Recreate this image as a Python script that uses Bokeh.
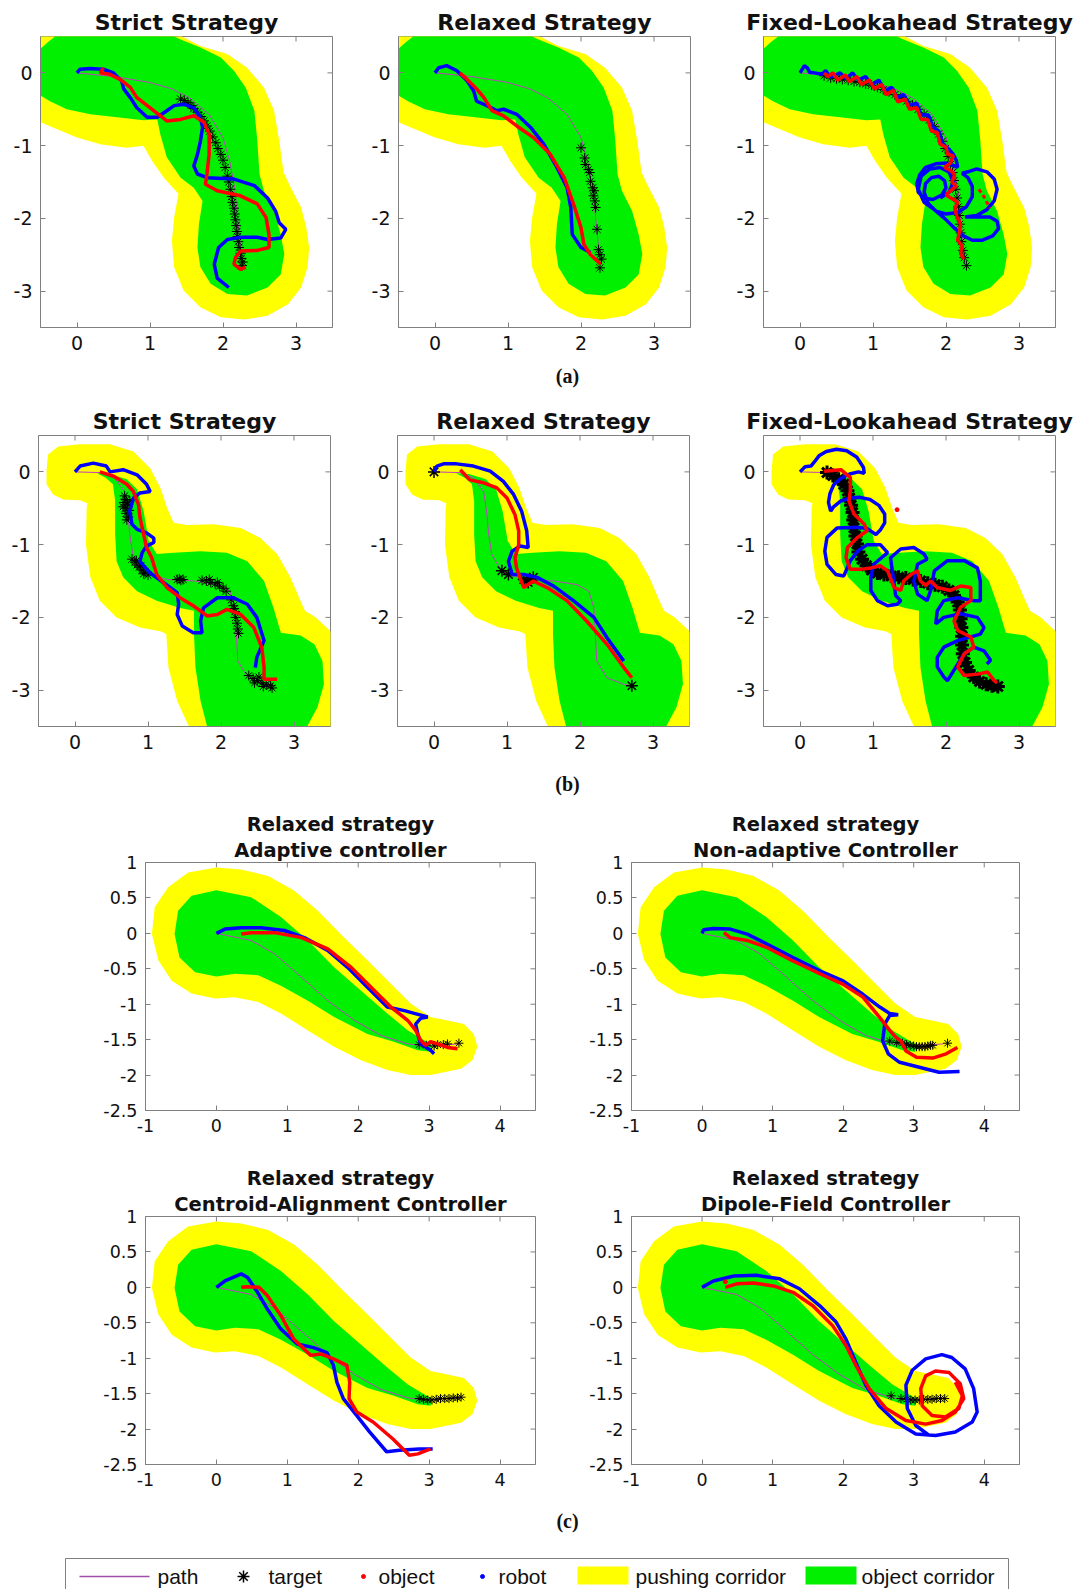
from bokeh.plotting import figure
from bokeh.layouts import column, row
from bokeh.models import Range1d, FixedTicker, Title, CustomJSTickFormatter
from bokeh.embed import file_html
from bokeh.resources import INLINE
from bokeh.core.properties import value

# ---------------- corridors (outlines, data units) ----------------
A_YELLOW = [(-0.6, 0.6), (1.40, 0.6), (1.44, 0.50), (1.69, 0.37), (2.06, 0.26), (2.33, 0.07), (2.56, -0.20),
            (2.70, -0.52), (2.77, -0.93), (2.83, -1.37), (2.93, -1.58), (3.07, -1.85), (3.14, -2.12), (3.18, -2.40),
            (3.16, -2.67), (3.07, -2.95), (2.89, -3.18), (2.61, -3.34), (2.29, -3.39), (1.97, -3.36), (1.69, -3.22),
            (1.46, -2.99), (1.33, -2.67), (1.30, -2.31), (1.33, -1.99), (1.39, -1.66), (1.19, -1.44), (1.03, -1.21),
            (0.91, -1.00), (0.68, -1.03), (0.32, -0.98), (0.00, -0.89), (-0.28, -0.77), (-0.50, -0.68), (-0.6, -0.64)]
A_GREEN = [(-0.6, 0.28), (-0.5, 0.33), (-0.40, 0.42), (-0.30, 0.50), (-0.25, 0.6), (1.30, 0.6), (1.33, 0.50),
           (1.42, 0.46), (1.69, 0.35), (1.97, 0.21), (2.15, 0.03), (2.31, -0.20), (2.43, -0.52), (2.47, -0.93),
           (2.50, -1.39), (2.56, -1.62), (2.70, -1.90), (2.79, -2.22), (2.84, -2.49), (2.79, -2.77), (2.61, -2.95),
           (2.33, -3.06), (2.06, -3.04), (1.83, -2.90), (1.69, -2.67), (1.65, -2.40), (1.67, -2.08), (1.72, -1.76),
           (1.60, -1.58), (1.42, -1.44), (1.23, -1.16), (1.14, -0.84), (1.10, -0.64), (0.91, -0.65), (0.55, -0.61),
           (0.18, -0.57), (-0.14, -0.50), (-0.37, -0.39), (-0.5, -0.31), (-0.6, -0.27)]
B_YELLOW = [(-0.39, 0.01), (-0.37, 0.24), (-0.23, 0.35), (0.07, 0.38), (0.48, 0.38), (0.80, 0.28), (1.03, 0.05),
            (1.17, -0.22), (1.26, -0.49), (1.35, -0.70), (1.53, -0.73), (1.90, -0.72), (2.27, -0.77), (2.54, -0.91),
            (2.77, -1.13), (2.95, -1.45), (3.07, -1.73), (3.15, -1.91), (3.30, -2.00), (3.50, -2.19), (3.6, -2.3),
            (3.6, -3.6), (1.58, -3.6), (1.56, -3.50), (1.40, -3.15), (1.28, -2.69), (1.25, -2.23), (1.17, -2.19),
            (0.89, -2.14), (0.57, -2.00), (0.34, -1.77), (0.21, -1.45), (0.15, -1.00), (0.16, -0.49), (0.17, -0.43),
            (0.07, -0.39), (-0.16, -0.38), (-0.30, -0.31), (-0.39, -0.17)]
B_GREEN = [(0.30, -0.02), (0.48, -0.03), (0.71, -0.10), (0.85, -0.24), (0.94, -0.54), (1.01, -0.95), (1.12, -1.13),
           (1.35, -1.11), (1.72, -1.09), (2.08, -1.11), (2.36, -1.23), (2.59, -1.50), (2.72, -1.87), (2.82, -2.21),
           (3.09, -2.25), (3.28, -2.37), (3.39, -2.60), (3.41, -2.92), (3.32, -3.24), (3.18, -3.50), (3.1, -3.6),
           (1.82, -3.6), (1.81, -3.50), (1.72, -3.15), (1.65, -2.69), (1.63, -2.23), (1.63, -1.91), (1.44, -1.87),
           (1.12, -1.77), (0.85, -1.64), (0.66, -1.45), (0.57, -1.23), (0.55, -0.86), (0.55, -0.40), (0.52, -0.17),
           (0.42, -0.08)]
C_YELLOW = [(0.00, 0.93), (0.35, 0.90), (0.73, 0.81), (1.10, 0.60), (1.43, 0.32), (1.80, -0.06), (2.13, -0.38),
            (2.46, -0.71), (2.74, -0.99), (3.02, -1.18), (3.26, -1.23), (3.49, -1.28), (3.63, -1.42), (3.68, -1.60),
            (3.61, -1.79), (3.45, -1.91), (3.26, -1.95), (3.02, -2.00), (2.74, -2.00), (2.41, -1.93), (2.04, -1.79),
            (1.66, -1.60), (1.29, -1.37), (0.91, -1.13), (0.59, -0.97), (0.26, -0.90), (-0.02, -0.92), (-0.35, -0.85),
            (-0.63, -0.67), (-0.82, -0.38), (-0.91, -0.01), (-0.87, 0.37), (-0.68, 0.65), (-0.40, 0.86)]
C_GREEN = [(0.00, 0.61), (0.49, 0.51), (0.91, 0.23), (1.29, -0.10), (1.66, -0.48), (2.04, -0.81), (2.41, -1.13),
           (2.70, -1.37), (2.93, -1.51), (3.05, -1.58), (3.02, -1.67), (2.84, -1.65), (2.50, -1.53), (2.13, -1.42),
           (1.66, -1.18), (1.29, -0.95), (0.91, -0.74), (0.59, -0.59), (0.26, -0.57), (0.00, -0.61), (-0.30, -0.55),
           (-0.52, -0.34), (-0.59, -0.01), (-0.54, 0.32), (-0.35, 0.53)]

# ---------------- reference paths ----------------
A_PATH = [(0, 0), (0.5, -0.05), (0.99, -0.13), (1.30, -0.22), (1.54, -0.34), (1.81, -0.57), (2.00, -0.89),
          (2.09, -1.21), (2.16, -1.58), (2.20, -1.99), (2.25, -2.50), (2.26, -2.63)]
B_PATH = [(0, 0), (0.36, -0.01), (0.54, -0.08), (0.68, -0.27), (0.72, -0.54), (0.75, -0.86), (0.79, -1.13),
          (0.91, -1.34), (1.00, -1.41), (1.27, -1.48), (1.64, -1.50), (1.96, -1.55), (2.12, -1.64), (2.19, -1.87),
          (2.21, -2.23), (2.23, -2.60), (2.37, -2.83), (2.60, -2.92), (2.71, -2.94)]
C_PATH = [(0, 0), (0.49, -0.10), (0.82, -0.29), (1.20, -0.62), (1.57, -0.95), (1.95, -1.23), (2.32, -1.44),
          (2.70, -1.56), (2.88, -1.58), (3.10, -1.58), (3.42, -1.56)]

# ---------------- (a) ----------------
A1_TARGET = [(1.42, -0.36), (1.47, -0.38), (1.52, -0.41), (1.56, -0.45), (1.60, -0.49), (1.65, -0.54), (1.70, -0.60),
             (1.74, -0.66), (1.78, -0.73), (1.82, -0.80), (1.86, -0.88), (1.90, -0.96), (1.93, -1.04), (1.97, -1.12),
             (2.00, -1.20), (2.03, -1.30), (2.06, -1.42), (2.08, -1.50), (2.10, -1.60), (2.12, -1.70), (2.13, -1.78),
             (2.15, -1.86), (2.16, -1.94), (2.17, -2.02), (2.18, -2.10), (2.19, -2.18), (2.20, -2.25), (2.21, -2.32),
             (2.22, -2.40), (2.24, -2.48), (2.25, -2.55), (2.27, -2.60), (2.26, -2.65)]
A1_ROBOT = [(0, 0), (0.04, 0.05), (0.18, 0.06), (0.36, 0.05), (0.50, 0.00), (0.61, -0.11), (0.64, -0.22),
            (0.73, -0.34), (0.82, -0.48), (0.96, -0.61), (1.10, -0.61), (1.23, -0.52), (1.33, -0.45), (1.46, -0.43),
            (1.60, -0.48), (1.69, -0.61), (1.72, -0.75), (1.69, -0.94), (1.65, -1.12), (1.60, -1.28), (1.65, -1.39),
            (1.78, -1.44), (2.15, -1.46), (2.43, -1.55), (2.61, -1.72), (2.72, -1.90), (2.77, -2.06), (2.86, -2.15),
            (2.79, -2.27), (2.61, -2.29), (2.47, -2.26), (2.24, -2.26), (2.06, -2.29), (1.94, -2.40), (1.88, -2.63),
            (1.92, -2.82), (2.08, -2.95)]
A1_OBJECT = [(0.36, 0.07), (0.32, 0.00), (0.45, -0.02), (0.59, -0.09), (0.73, -0.20), (0.82, -0.34), (0.91, -0.41),
             (1.05, -0.52), (1.23, -0.66), (1.42, -0.64), (1.60, -0.59), (1.74, -0.68), (1.81, -0.84), (1.81, -1.12),
             (1.78, -1.39), (1.76, -1.53), (1.92, -1.62), (2.24, -1.69), (2.47, -1.80), (2.59, -1.99), (2.63, -2.22),
             (2.63, -2.40), (2.47, -2.44), (2.24, -2.45), (2.17, -2.54), (2.15, -2.63), (2.24, -2.70), (2.31, -2.67)]
A2_TARGET = [(2.00, -1.03), (2.05, -1.17), (2.06, -1.26), (2.10, -1.33), (2.12, -1.37), (2.13, -1.49), (2.16, -1.58),
             (2.18, -1.62), (2.17, -1.69), (2.19, -1.76), (2.20, -1.85), (2.22, -2.15), (2.24, -2.43), (2.26, -2.50),
             (2.28, -2.56), (2.26, -2.68)]
A2_ROBOT = [(0, 0), (0.05, 0.07), (0.16, 0.10), (0.30, 0.03), (0.44, -0.11), (0.53, -0.25), (0.57, -0.39),
            (0.71, -0.45), (0.85, -0.52), (0.94, -0.50), (1.12, -0.57), (1.31, -0.75), (1.49, -0.98), (1.67, -1.30),
            (1.81, -1.58), (1.86, -1.85), (1.88, -2.22), (2.00, -2.40), (2.13, -2.47)]
A2_OBJECT = [(0.34, 0.00), (0.44, -0.09), (0.57, -0.22), (0.67, -0.34), (0.78, -0.52), (0.94, -0.59), (1.12, -0.73),
             (1.35, -0.89), (1.58, -1.12), (1.77, -1.44), (1.90, -1.81), (2.00, -2.13), (2.04, -2.36), (2.13, -2.50),
             (2.27, -2.63)]
A3_TARGET = [(0.33, -0.04), (0.42, -0.07), (0.50, -0.08), (0.58, -0.09), (0.66, -0.10), (0.74, -0.12), (0.82, -0.13),
             (0.90, -0.15), (0.98, -0.17), (1.06, -0.20), (1.14, -0.23), (1.22, -0.26), (1.30, -0.30), (1.38, -0.34),
             (1.46, -0.39), (1.54, -0.44), (1.62, -0.50), (1.70, -0.57), (1.77, -0.65), (1.84, -0.74), (1.90, -0.84),
             (1.95, -0.94), (1.99, -1.04), (2.03, -1.15), (2.06, -1.26), (2.09, -1.37), (2.11, -1.48), (2.13, -1.60),
             (2.15, -1.72), (2.17, -1.84), (2.18, -1.96), (2.19, -2.08), (2.20, -2.20), (2.21, -2.32), (2.23, -2.44),
             (2.25, -2.54), (2.28, -2.65)]
A3_ROBOT = [(0, 0), (0.06, 0.10), (0.10, 0.07), (0.13, 0.01), (0.20, 0.00), (0.30, -0.02), (0.35, 0.03),
            (0.42, -0.06), (0.55, 0.00), (0.63, -0.08), (0.72, 0.00), (0.80, -0.10), (0.90, -0.05), (0.98, -0.16),
            (1.08, -0.10), (1.16, -0.24), (1.26, -0.20), (1.33, -0.34), (1.42, -0.30), (1.50, -0.44), (1.60, -0.42),
            (1.66, -0.58), (1.76, -0.58), (1.82, -0.74), (1.90, -0.80), (1.96, -0.98), (2.04, -1.05), (2.10, -1.12),
            (2.14, -1.20), (2.16, -1.30), (2.12, -1.28), (2.00, -1.24), (1.86, -1.25), (1.72, -1.30), (1.64, -1.40),
            (1.60, -1.52), (1.62, -1.64), (1.70, -1.72), (1.82, -1.74), (1.94, -1.68), (2.00, -1.58), (1.98, -1.48),
            (1.90, -1.42), (1.80, -1.44), (1.72, -1.52), (1.70, -1.64), (1.76, -1.80), (1.86, -1.90), (2.00, -1.94),
            (2.16, -1.92), (2.28, -1.84), (2.36, -1.70), (2.36, -1.56), (2.30, -1.44), (2.22, -1.38), (2.30, -1.36),
            (2.42, -1.32), (2.56, -1.36), (2.66, -1.46), (2.70, -1.60), (2.66, -1.76), (2.56, -1.88), (2.42, -1.96),
            (2.26, -1.98), (2.44, -1.98), (2.60, -1.98), (2.70, -2.04), (2.72, -2.14), (2.64, -2.24), (2.50, -2.30),
            (2.36, -2.30), (2.24, -2.24), (2.10, -2.12), (1.98, -2.00), (1.84, -1.88), (1.70, -1.78), (1.62, -1.60),
            (1.66, -1.42), (1.78, -1.32), (1.92, -1.30), (2.04, -1.36), (2.10, -1.50), (2.04, -1.64), (1.92, -1.72)]
A3_OBJECT = [(0.33, 0.00), (0.38, -0.05), (0.45, 0.00), (0.52, -0.10), (0.62, -0.03), (0.68, -0.12), (0.78, -0.05),
             (0.84, -0.16), (0.95, -0.10), (1.02, -0.22), (1.12, -0.16), (1.18, -0.30), (1.28, -0.24), (1.34, -0.40),
             (1.44, -0.36), (1.50, -0.50), (1.60, -0.48), (1.66, -0.64), (1.75, -0.64), (1.80, -0.80), (1.88, -0.82),
             (1.92, -0.98), (2.00, -1.02), (2.02, -1.12), (2.10, -1.14), (2.06, -1.24), (1.98, -1.30), (2.06, -1.34),
             (2.12, -1.40), (2.08, -1.50), (2.14, -1.56), (2.06, -1.62), (2.00, -1.68), (2.10, -1.74), (2.16, -1.78),
             (2.12, -1.86), (2.15, -1.98), (2.20, -2.08), (2.18, -2.20), (2.16, -2.30), (2.22, -2.38), (2.20, -2.48),
             (2.24, -2.56)]
A3_OBJECT_B = [(2.45, -1.60), (2.52, -1.70), (2.56, -1.78), (2.60, -1.86)]

# ---------------- (b) ----------------
B1_TARGET = [(0.68, -0.33), (0.70, -0.38), (0.67, -0.42), (0.72, -0.45), (0.69, -0.50), (0.74, -0.53), (0.70, -0.57),
             (0.73, -0.62), (0.71, -0.66), (0.75, -0.40), (0.66, -0.48), (0.78, -1.20), (0.82, -1.24), (0.85, -1.28),
             (0.88, -1.31), (0.92, -1.35), (0.96, -1.38), (1.00, -1.42), (0.84, -1.22), (0.90, -1.29), (0.94, -1.40),
             (1.43, -1.47), (1.45, -1.49), (1.40, -1.48), (1.48, -1.48), (1.74, -1.49), (1.80, -1.50), (1.86, -1.52),
             (1.92, -1.54), (1.98, -1.57), (2.03, -1.60), (2.07, -1.64), (1.84, -1.48), (1.95, -1.52), (2.14, -1.76),
             (2.17, -1.84), (2.19, -1.92), (2.20, -2.00), (2.22, -2.08), (2.23, -2.16), (2.24, -2.22), (2.18, -1.88),
             (2.38, -2.80), (2.44, -2.84), (2.50, -2.87), (2.56, -2.90), (2.62, -2.92), (2.68, -2.94), (2.46, -2.90),
             (2.58, -2.95), (2.70, -2.97), (2.52, -2.82)]
B1_ROBOT = [(0, 0), (0.07, 0.08), (0.25, 0.12), (0.43, 0.08), (0.48, 0.00), (0.66, 0.03), (0.85, -0.04),
            (0.98, -0.17), (1.03, -0.27), (0.89, -0.29), (0.80, -0.36), (0.75, -0.54), (0.78, -0.72), (0.85, -0.79),
            (0.98, -0.84), (1.08, -0.91), (1.08, -0.97), (0.98, -1.02), (0.92, -1.11), (0.89, -1.23), (1.03, -1.39),
            (1.21, -1.52), (1.40, -1.66), (1.42, -1.82), (1.40, -1.96), (1.47, -2.12), (1.62, -2.21), (1.74, -2.21),
            (1.72, -2.05), (1.76, -1.87), (1.95, -1.73), (2.17, -1.73), (2.36, -1.82), (2.49, -2.00), (2.59, -2.32),
            (2.49, -2.55), (2.47, -2.69)]
B1_OBJECT = [(0.34, 0.00), (0.53, -0.06), (0.71, -0.17), (0.80, -0.27), (0.87, -0.45), (0.89, -0.63), (0.94, -0.86),
             (0.98, -1.04), (1.05, -1.18), (1.12, -1.41), (1.26, -1.59), (1.44, -1.73), (1.62, -1.84), (1.81, -1.98),
             (1.95, -1.96), (2.08, -1.89), (2.27, -1.96), (2.45, -2.14), (2.56, -2.42), (2.59, -2.69), (2.59, -2.85),
             (2.77, -2.85)]
B2_TARGET = [(0.00, 0.00), (0.93, -1.36), (1.02, -1.41), (1.23, -1.48), (1.27, -1.50), (1.31, -1.47), (1.36, -1.45),
             (1.29, -1.52), (2.71, -2.94)]
B2_ROBOT = [(0, 0), (0.04, 0.08), (0.13, 0.11), (0.31, 0.11), (0.54, 0.08), (0.77, 0.01), (0.95, -0.13),
            (1.09, -0.31), (1.20, -0.54), (1.27, -0.81), (1.29, -1.04), (1.18, -1.02), (1.07, -1.09), (1.02, -1.23),
            (1.07, -1.41), (1.23, -1.41), (1.41, -1.45), (1.64, -1.57), (1.91, -1.77), (2.19, -2.00), (2.37, -2.28),
            (2.60, -2.60)]
B2_OBJECT = [(0.36, 0.03), (0.49, -0.11), (0.68, -0.15), (0.86, -0.22), (1.00, -0.36), (1.11, -0.59), (1.16, -0.81),
             (1.16, -1.00), (1.11, -1.18), (1.13, -1.32), (1.23, -1.59), (1.36, -1.50), (1.55, -1.59), (1.82, -1.77),
             (2.09, -2.05), (2.37, -2.37), (2.60, -2.69), (2.71, -2.83)]
B3_TARGET = [(0.37, -0.01), (0.45, -0.05), (0.53, -0.10), (0.60, -0.17), (0.65, -0.26), (0.68, -0.36), (0.70, -0.46),
             (0.72, -0.56), (0.73, -0.66), (0.74, -0.77), (0.76, -0.88), (0.78, -0.99), (0.80, -1.10), (0.85, -1.20),
             (0.91, -1.29), (0.98, -1.35), (1.06, -1.39), (1.15, -1.41), (1.25, -1.43), (1.35, -1.45), (1.45, -1.46),
             (1.55, -1.48), (1.65, -1.50), (1.75, -1.53), (1.85, -1.55), (1.95, -1.58), (2.04, -1.63), (2.11, -1.70),
             (2.16, -1.79), (2.19, -1.90), (2.20, -2.02), (2.21, -2.14), (2.22, -2.26), (2.22, -2.38), (2.23, -2.50),
             (2.26, -2.62), (2.31, -2.73), (2.38, -2.82), (2.46, -2.88), (2.55, -2.92), (2.63, -2.94), (2.71, -2.95)]
B3_ROBOT = [(0, 0), (0.07, 0.07), (0.15, 0.08), (0.20, 0.14), (0.26, 0.22), (0.36, 0.28), (0.50, 0.31), (0.64, 0.29),
            (0.78, 0.20), (0.87, 0.06), (0.88, -0.02), (0.80, 0.00), (0.68, -0.03), (0.56, -0.09), (0.46, -0.18),
            (0.41, -0.30), (0.39, -0.42), (0.42, -0.54), (0.46, -0.48), (0.56, -0.40), (0.68, -0.36), (0.82, -0.35),
            (0.96, -0.38), (1.08, -0.46), (1.16, -0.58), (1.16, -0.70), (1.10, -0.80), (1.04, -0.86), (0.92, -0.78),
            (0.79, -0.76), (0.51, -0.77), (0.37, -0.90), (0.34, -1.09), (0.37, -1.27), (0.49, -1.41), (0.60, -1.43),
            (0.69, -1.22), (0.79, -1.09), (0.92, -1.00), (1.10, -1.00), (1.20, -1.11), (1.01, -1.27), (0.97, -1.45),
            (0.97, -1.63), (1.06, -1.77), (1.20, -1.84), (1.33, -1.82), (1.38, -1.77), (1.31, -1.70), (1.24, -1.18),
            (1.38, -1.06), (1.56, -1.04), (1.70, -1.13), (1.74, -1.20), (1.61, -1.27), (1.56, -1.50), (1.61, -1.68),
            (1.74, -1.77), (1.79, -1.63), (1.84, -1.36), (2.02, -1.22), (2.25, -1.22), (2.43, -1.32), (2.47, -1.50),
            (2.47, -1.77), (2.38, -1.77), (2.16, -1.73), (1.97, -1.77), (1.88, -1.91), (1.86, -2.09), (1.97, -2.00),
            (2.20, -1.95), (2.43, -2.00), (2.52, -2.14), (2.47, -2.23), (2.16, -2.32), (1.97, -2.41), (1.88, -2.55),
            (1.88, -2.68), (1.97, -2.82), (2.02, -2.87), (2.25, -2.50), (2.38, -2.41), (2.52, -2.46), (2.61, -2.59),
            (2.56, -2.64)]
B3_OBJECT = [(0.33, 0.01), (0.56, 0.03), (0.69, -0.08), (0.69, -0.26), (0.67, -0.40), (0.74, -0.58), (0.88, -0.72),
             (0.92, -0.81), (0.79, -0.90), (0.65, -1.04), (0.63, -1.18), (0.69, -1.34), (0.83, -1.34), (0.97, -1.32),
             (1.10, -1.29), (1.20, -1.36), (1.29, -1.59), (1.38, -1.63), (1.42, -1.50), (1.52, -1.41), (1.61, -1.36),
             (1.65, -1.50), (1.72, -1.56), (1.79, -1.50), (1.88, -1.59), (2.06, -1.63), (2.20, -1.57), (2.34, -1.59),
             (2.34, -1.77), (2.20, -1.86), (2.11, -2.05), (2.16, -2.18), (2.34, -2.27), (2.38, -2.41), (2.25, -2.50),
             (2.16, -2.68), (2.25, -2.80), (2.43, -2.78), (2.57, -2.75), (2.66, -2.87), (2.70, -2.90)]
B3_STRAY = [(1.33, -0.52)]

# ---------------- (c) ----------------
C1_TARGET = [(2.86, -1.57), (2.96, -1.58), (3.07, -1.59), (3.12, -1.57), (3.20, -1.57), (3.26, -1.56), (3.42, -1.55)]
C1_ROBOT = [(0, 0), (0.12, 0.06), (0.35, 0.08), (0.63, 0.08), (0.96, 0.04), (1.24, -0.06), (1.57, -0.24),
            (1.85, -0.48), (2.13, -0.76), (2.41, -1.04), (2.65, -1.09), (2.79, -1.13), (2.98, -1.18), (2.88, -1.20),
            (2.81, -1.28), (2.84, -1.42), (2.88, -1.56), (3.02, -1.65), (3.07, -1.70)]
C1_OBJECT = [(0.35, -0.01), (0.49, 0.01), (0.82, 0.01), (1.20, -0.06), (1.57, -0.22), (1.90, -0.48), (2.18, -0.76),
             (2.46, -1.04), (2.70, -1.23), (2.81, -1.37), (2.88, -1.51), (2.95, -1.58), (3.02, -1.53), (3.12, -1.56),
             (3.26, -1.61), (3.40, -1.63)]
C2_TARGET = [(2.66, -1.52), (2.76, -1.54), (2.84, -1.55), (2.90, -1.57), (2.95, -1.58), (3.00, -1.59), (3.04, -1.60),
             (3.08, -1.60), (3.12, -1.60), (3.16, -1.60), (3.20, -1.59), (3.24, -1.58), (3.27, -1.58), (3.48, -1.55)]
C2_ROBOT = [(0, 0), (0.02, 0.05), (0.16, 0.07), (0.40, 0.06), (0.64, -0.01), (0.92, -0.15), (1.29, -0.34),
            (1.67, -0.53), (2.00, -0.67), (2.28, -0.86), (2.52, -1.04), (2.66, -1.13), (2.78, -1.15), (2.66, -1.16),
            (2.59, -1.28), (2.56, -1.52), (2.64, -1.70), (2.80, -1.82), (3.08, -1.89), (3.36, -1.96), (3.65, -1.95)]
C2_OBJECT = [(0.31, 0.01), (0.40, -0.06), (0.64, -0.10), (0.92, -0.20), (1.29, -0.39), (1.67, -0.57), (2.00, -0.72),
             (2.28, -0.90), (2.52, -1.19), (2.66, -1.37), (2.75, -1.47), (2.82, -1.52), (2.89, -1.66), (3.04, -1.75),
             (3.27, -1.76), (3.46, -1.70), (3.62, -1.61)]
C3_TARGET = [(2.86, -1.57), (2.92, -1.58), (2.98, -1.59), (3.04, -1.59), (3.10, -1.58), (3.16, -1.57), (3.22, -1.57),
             (3.28, -1.57), (3.34, -1.56), (3.40, -1.56), (3.45, -1.55)]
C3_ROBOT = [(0, 0), (0.12, 0.09), (0.35, 0.19), (0.44, 0.14), (0.58, -0.07), (0.72, -0.31), (0.91, -0.59),
            (1.14, -0.80), (1.37, -0.85), (1.56, -0.92), (1.65, -1.10), (1.70, -1.34), (1.79, -1.57), (1.98, -1.81),
            (2.16, -2.04), (2.40, -2.32), (2.58, -2.30), (2.86, -2.28), (3.05, -2.28)]
C3_OBJECT = [(0.35, 0.00), (0.44, 0.01), (0.60, 0.00), (0.72, -0.12), (0.91, -0.40), (1.09, -0.73), (1.33, -0.96),
             (1.47, -0.94), (1.65, -1.01), (1.84, -1.10), (1.88, -1.34), (1.87, -1.57), (1.98, -1.76), (2.21, -1.90),
             (2.49, -2.14), (2.72, -2.37), (2.84, -2.35), (3.02, -2.28)]
C4_TARGET = [(2.68, -1.53), (2.82, -1.57), (2.90, -1.58), (2.96, -1.59), (3.02, -1.59), (3.08, -1.59), (3.14, -1.58),
             (3.20, -1.58), (3.26, -1.58), (3.32, -1.57), (3.38, -1.57), (3.44, -1.57)]
C4_ROBOT = [(0, 0), (0.16, 0.09), (0.45, 0.16), (0.77, 0.17), (1.10, 0.12), (1.38, -0.02), (1.67, -0.26),
            (1.90, -0.49), (2.04, -0.73), (2.18, -1.06), (2.32, -1.38), (2.51, -1.67), (2.75, -1.90), (3.03, -2.07),
            (3.31, -2.09), (3.59, -2.04), (3.83, -1.90), (3.90, -1.76), (3.85, -1.43), (3.73, -1.15), (3.54, -0.99),
            (3.40, -0.95), (3.17, -1.01), (2.98, -1.17), (2.89, -1.38), (2.91, -1.71), (3.03, -1.95), (3.22, -2.09)]
C4_OBJECT = [(0.33, 0.00), (0.49, 0.05), (0.73, 0.06), (1.01, 0.02), (1.29, -0.07), (1.57, -0.26), (1.85, -0.54),
             (2.04, -0.82), (2.18, -1.10), (2.37, -1.43), (2.61, -1.71), (2.89, -1.88), (3.17, -1.93), (3.40, -1.88),
             (3.59, -1.76), (3.71, -1.57), (3.66, -1.36), (3.50, -1.20), (3.31, -1.18), (3.17, -1.25), (3.10, -1.43),
             (3.12, -1.67), (3.26, -1.81), (3.45, -1.83), (3.64, -1.71), (3.69, -1.53), (3.59, -1.34)]
C4_STRAY = [(0.33, 0.08)]

AB_XTICKS = [0, 1, 2, 3]
AB_YTICKS = [-3, -2, -1, 0]
C_XTICKS = [-1, 0, 1, 2, 3, 4]
C_YTICKS = [-2.5, -2, -1.5, -1, -0.5, 0, 0.5, 1]

YELLOW = "#ffff00"
GREEN = "#00f000"
RED = "#ff0000"
BLUE = "#0000ff"
PATH_COLOR = "#bf40bf"
FRAME = "#808080"
TICK_LEN = 5


def xs(pts):
    return [p[0] for p in pts]


def ys(pts):
    return [p[1] for p in pts]


def panel(width, height, bl, br, bt, bb, xr, yr, xt, yt, tick_fs, titles, title_fs, standoffs):
    p = figure(width=width, height=height, output_backend="svg", toolbar_location=None,
               x_range=Range1d(*xr), y_range=Range1d(*yr), title=None,
               min_border_left=bl, min_border_right=br, min_border_top=bt, min_border_bottom=bb)
    p.grid.visible = False
    p.outline_line_color = FRAME
    p.background_fill_color = "white"
    p.border_fill_color = "white"
    fmt = CustomJSTickFormatter(code="return tick.toString()")
    p.xaxis.ticker = FixedTicker(ticks=xt)
    p.yaxis.ticker = FixedTicker(ticks=yt)
    for ax in (p.xaxis[0], p.yaxis[0]):
        ax.formatter = fmt
        ax.major_tick_in = TICK_LEN
        ax.major_tick_out = 0
        ax.minor_tick_line_color = None
        ax.axis_line_color = FRAME
        ax.major_tick_line_color = FRAME
        ax.major_label_text_font = "DejaVu Sans"
        ax.major_label_text_font_size = tick_fs
        ax.major_label_text_color = "#111111"
        ax.major_label_standoff = 8
    # mirrored inward ticks on the top and right edges of the box
    fw = width - bl - br
    fh = height - bt - bb
    dy = TICK_LEN * (yr[1] - yr[0]) / fh
    dx = TICK_LEN * (xr[1] - xr[0]) / fw
    p.segment(x0=list(xt), y0=[yr[1]] * len(xt), x1=list(xt), y1=[yr[1] - dy] * len(xt), line_color=FRAME, line_width=1)
    p.segment(x0=[xr[1]] * len(yt), y0=list(yt), x1=[xr[1] - dx] * len(yt), y1=list(yt), line_color=FRAME, line_width=1)
    for txt, so in zip(titles, standoffs):
        p.add_layout(Title(text=txt, align="center", text_font="DejaVu Sans", text_font_style="bold",
                           text_font_size=title_fs, text_color="#111111", standoff=so), "above")
    return p


def draw(p, yel, grn, path, target, robot, obj, tsize, twidth, extra_obj=None):
    p.patch(xs(yel), ys(yel), fill_color=YELLOW, line_color=None)
    p.patch(xs(grn), ys(grn), fill_color=GREEN, line_color=None)
    p.line(xs(path), ys(path), line_color=PATH_COLOR, line_width=1)
    p.scatter(xs(target), ys(target), marker="asterisk", size=tsize, line_color="black", line_width=twidth)
    p.line(xs(robot), ys(robot), line_color=BLUE, line_width=3.5)
    p.line(xs(obj), ys(obj), line_color=RED, line_width=3.5)
    if extra_obj:
        p.scatter(xs(extra_obj), ys(extra_obj), marker="circle", size=4, fill_color=RED, line_color=RED)


ABX = (-0.5, 3.5)
ABY = (-3.5, 0.5)
CX = (-1, 4.5)
CY = (-2.5, 1)
AB_TICK_FS = "19px"
C_TICK_FS = "17.5px"
AB_TITLE_FS = "22px"
C_TITLE_FS = "19.5px"

# row (a)
a1 = panel(360, 358, 40, 28, 36, 31, ABX, ABY, AB_XTICKS, AB_YTICKS, AB_TICK_FS, ["Strict Strategy"], AB_TITLE_FS, [4])
a2 = panel(356, 358, 38, 26, 36, 31, ABX, ABY, AB_XTICKS, AB_YTICKS, AB_TICK_FS, ["Relaxed Strategy"], AB_TITLE_FS, [4])
a3 = panel(360, 358, 47, 21, 36, 31, ABX, ABY, AB_XTICKS, AB_YTICKS, AB_TICK_FS, ["Fixed-Lookahead Strategy"],
           AB_TITLE_FS, [4])
draw(a1, A_YELLOW, A_GREEN, A_PATH, A1_TARGET, A1_ROBOT, A1_OBJECT, 10, 1)
draw(a2, A_YELLOW, A_GREEN, A_PATH, A2_TARGET, A2_ROBOT, A2_OBJECT, 10, 1)
draw(a3, A_YELLOW, A_GREEN, A_PATH, A3_TARGET, A3_ROBOT, A3_OBJECT, 10, 1)
a3.line(xs(A3_OBJECT_B), ys(A3_OBJECT_B), line_color=RED, line_width=3, line_dash="4 3")

# row (b)
b1 = panel(359, 362, 38, 29, 40, 31, ABX, ABY, AB_XTICKS, AB_YTICKS, AB_TICK_FS, ["Strict Strategy"], AB_TITLE_FS, [4])
b2 = panel(356, 362, 38, 26, 40, 31, ABX, ABY, AB_XTICKS, AB_YTICKS, AB_TICK_FS, ["Relaxed Strategy"], AB_TITLE_FS, [4])
b3 = panel(361, 362, 48, 21, 40, 31, ABX, ABY, AB_XTICKS, AB_YTICKS, AB_TICK_FS, ["Fixed-Lookahead Strategy"],
           AB_TITLE_FS, [4])
draw(b1, B_YELLOW, B_GREEN, B_PATH, B1_TARGET, B1_ROBOT, B1_OBJECT, 10, 1)
draw(b2, B_YELLOW, B_GREEN, B_PATH, B2_TARGET, B2_ROBOT, B2_OBJECT, 12, 1.5)
draw(b3, B_YELLOW, B_GREEN, B_PATH, B3_TARGET, B3_ROBOT, B3_OBJECT, 14, 3, B3_STRAY)

# rows (c): two centred title lines (first added sits nearest the frame)
c1 = panel(580, 343, 145, 45, 62, 33, CX, CY, C_XTICKS, C_YTICKS, C_TICK_FS,
           ["Adaptive controller", "Relaxed strategy"], C_TITLE_FS, [2, 0])
c2 = panel(496, 343, 51, 57, 62, 33, CX, CY, C_XTICKS, C_YTICKS, C_TICK_FS,
           ["Non-adaptive Controller", "Relaxed strategy"], C_TITLE_FS, [2, 0])
c3 = panel(580, 354, 145, 45, 73, 33, CX, CY, C_XTICKS, C_YTICKS, C_TICK_FS,
           ["Centroid-Alignment Controller", "Relaxed strategy"], C_TITLE_FS, [2, 0])
c4 = panel(496, 354, 51, 57, 73, 33, CX, CY, C_XTICKS, C_YTICKS, C_TICK_FS,
           ["Dipole-Field Controller", "Relaxed strategy"], C_TITLE_FS, [2, 0])
draw(c1, C_YELLOW, C_GREEN, C_PATH, C1_TARGET, C1_ROBOT, C1_OBJECT, 9, 1)
draw(c2, C_YELLOW, C_GREEN, C_PATH, C2_TARGET, C2_ROBOT, C2_OBJECT, 9, 1)
draw(c3, C_YELLOW, C_GREEN, C_PATH, C3_TARGET, C3_ROBOT, C3_OBJECT, 9, 1)
draw(c4, C_YELLOW, C_GREEN, C_PATH, C4_TARGET, C4_ROBOT, C4_OBJECT, 9, 1, C4_STRAY)


def strip(h):
    s = figure(width=1076, height=h, x_range=Range1d(0, 1076), y_range=Range1d(h, 0), output_backend="svg",
               toolbar_location=None, min_border=0, x_axis_location=None, y_axis_location=None)
    s.grid.visible = False
    s.outline_line_color = None
    return s


def caption(s, label, y):
    s.text(x=[567], y=[y], text=[label], text_font=value("Liberation Serif"), text_font_style="bold",
           text_font_size="20px", text_align="center", text_baseline="middle", text_color="#111111")


sa = strip(37)
caption(sa, "(a)", 17)
sb = strip(43)
caption(sb, "(b)", 26)
sc = strip(43)
caption(sc, "(c)", 23)

# legend strip
LEG_LABELS = ["path", "target", "object", "robot", "pushing corridor", "object corridor"]
lg = strip(49)
lg.quad(left=[65], right=[1008], top=[18], bottom=[70], fill_color="white", line_color=FRAME, line_width=1)
lg.line(x=[79, 149], y=[36, 36], line_color="#a050a8", line_width=1.5)
lg.scatter(x=[243], y=[36], marker="asterisk", size=12, line_color="black", line_width=1.5)
lg.scatter(x=[363], y=[36], marker="circle", size=4, fill_color=RED, line_color=RED)
lg.scatter(x=[482], y=[36], marker="circle", size=4, fill_color=BLUE, line_color=BLUE)
lg.quad(left=[577], right=[628], top=[26], bottom=[44], fill_color=YELLOW, line_color=None)
lg.quad(left=[805], right=[856], top=[26], bottom=[44], fill_color=GREEN, line_color=None)
lg.text(x=[157, 268, 378, 498, 635, 861], y=[36] * 6, text=LEG_LABELS, text_font=value("Liberation Sans"),
        text_font_size="21px", text_align="left", text_baseline="middle", text_color="#111111")

layout = column(row(a1, a2, a3), sa, row(b1, b2, b3), sb, row(c1, c2), row(c3, c4), sc, lg)
open("out.html", "w").write(file_html(layout, INLINE))
